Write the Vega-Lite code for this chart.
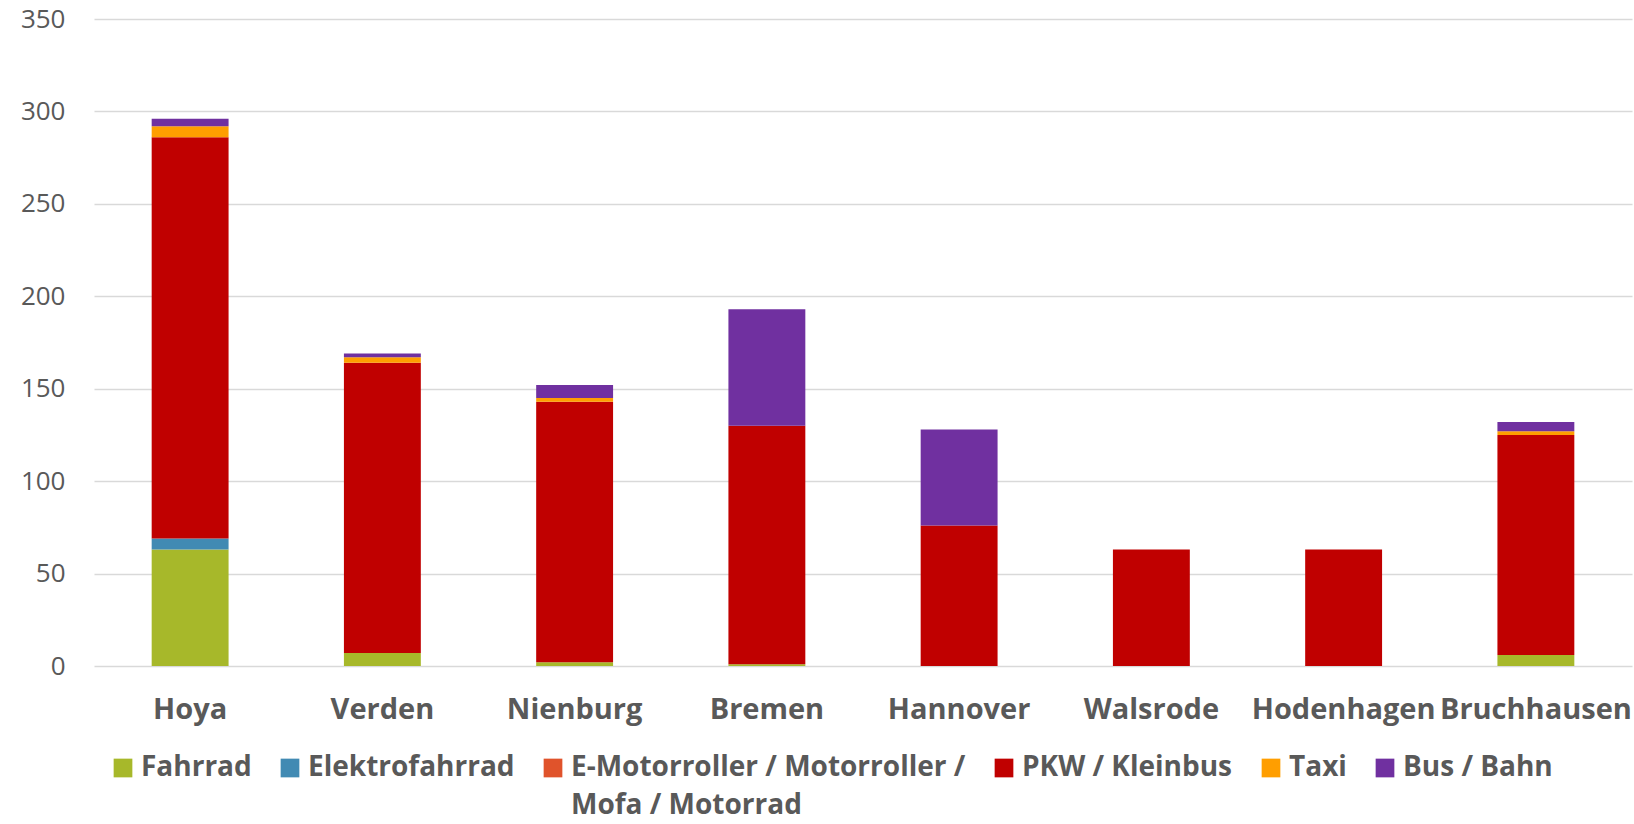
{
  "$schema": "https://vega.github.io/schema/vega-lite/v6.json",
  "width": 1538,
  "height": 647,
  "autosize": "none",
  "padding": {"left": 94, "top": 19, "right": 2, "bottom": 158},
  "background": "white",
  "config": {
    "view": {"stroke": null},
    "font": "Open Sans"
  },
  "datasets": {
    "reihenfolge": [
      {"Verkehrsmittel": "Fahrrad", "Rang": 1},
      {"Verkehrsmittel": "Elektrofahrrad", "Rang": 2},
      {"Verkehrsmittel": "E-Motorroller / Motorroller / Mofa / Motorrad", "Rang": 3},
      {"Verkehrsmittel": "PKW / Kleinbus", "Rang": 4},
      {"Verkehrsmittel": "Taxi", "Rang": 5},
      {"Verkehrsmittel": "Bus / Bahn", "Rang": 6}
    ]
  },
  "data": {
    "values": [
      {"Ort": "Hoya", "Verkehrsmittel": "Fahrrad", "Anzahl": 63},
      {"Ort": "Hoya", "Verkehrsmittel": "Elektrofahrrad", "Anzahl": 6},
      {"Ort": "Hoya", "Verkehrsmittel": "PKW / Kleinbus", "Anzahl": 217},
      {"Ort": "Hoya", "Verkehrsmittel": "Taxi", "Anzahl": 6},
      {"Ort": "Hoya", "Verkehrsmittel": "Bus / Bahn", "Anzahl": 4},
      {"Ort": "Verden", "Verkehrsmittel": "Fahrrad", "Anzahl": 7},
      {"Ort": "Verden", "Verkehrsmittel": "PKW / Kleinbus", "Anzahl": 157},
      {"Ort": "Verden", "Verkehrsmittel": "Taxi", "Anzahl": 3},
      {"Ort": "Verden", "Verkehrsmittel": "Bus / Bahn", "Anzahl": 2},
      {"Ort": "Nienburg", "Verkehrsmittel": "Fahrrad", "Anzahl": 2},
      {"Ort": "Nienburg", "Verkehrsmittel": "PKW / Kleinbus", "Anzahl": 141},
      {"Ort": "Nienburg", "Verkehrsmittel": "Taxi", "Anzahl": 2},
      {"Ort": "Nienburg", "Verkehrsmittel": "Bus / Bahn", "Anzahl": 7},
      {"Ort": "Bremen", "Verkehrsmittel": "Fahrrad", "Anzahl": 1},
      {"Ort": "Bremen", "Verkehrsmittel": "PKW / Kleinbus", "Anzahl": 129},
      {"Ort": "Bremen", "Verkehrsmittel": "Bus / Bahn", "Anzahl": 63},
      {"Ort": "Hannover", "Verkehrsmittel": "PKW / Kleinbus", "Anzahl": 76},
      {"Ort": "Hannover", "Verkehrsmittel": "Bus / Bahn", "Anzahl": 52},
      {"Ort": "Walsrode", "Verkehrsmittel": "PKW / Kleinbus", "Anzahl": 63},
      {"Ort": "Hodenhagen", "Verkehrsmittel": "PKW / Kleinbus", "Anzahl": 63},
      {"Ort": "Bruchhausen", "Verkehrsmittel": "Fahrrad", "Anzahl": 6},
      {"Ort": "Bruchhausen", "Verkehrsmittel": "PKW / Kleinbus", "Anzahl": 119},
      {"Ort": "Bruchhausen", "Verkehrsmittel": "Taxi", "Anzahl": 2},
      {"Ort": "Bruchhausen", "Verkehrsmittel": "Bus / Bahn", "Anzahl": 5}
    ]
  },
  "transform": [
    {
      "lookup": "Verkehrsmittel",
      "from": {"data": {"name": "reihenfolge"}, "key": "Verkehrsmittel", "fields": ["Rang"]}
    }
  ],
  "mark": {"type": "bar"},
  "encoding": {
    "x": {
      "field": "Ort",
      "type": "nominal",
      "sort": ["Hoya", "Verden", "Nienburg", "Bremen", "Hannover", "Walsrode", "Hodenhagen", "Bruchhausen"],
      "scale": {"paddingInner": 0.6, "paddingOuter": 0.3},
      "axis": {
        "title": null,
        "labelAngle": 0,
        "domain": false,
        "ticks": false,
        "labelPadding": 29,
        "labelFontSize": 29,
        "labelFontWeight": "bold",
        "labelColor": "#595959",
        "labelFont": "Open Sans",
        "labelLimit": 400
      }
    },
    "y": {
      "field": "Anzahl",
      "type": "quantitative",
      "stack": "zero",
      "scale": {"domain": [0, 350], "nice": false},
      "axis": {
        "title": null,
        "values": [0, 50, 100, 150, 200, 250, 300, 350],
        "domain": false,
        "ticks": false,
        "labelPadding": 29,
        "labelFontSize": 26,
        "labelColor": "#595959",
        "labelFont": "Open Sans",
        "gridColor": "#D9D9D9",
        "gridWidth": 1.5
      }
    },
    "order": {"field": "Rang", "type": "quantitative", "sort": "ascending"},
    "color": {
      "field": "Verkehrsmittel",
      "type": "nominal",
      "sort": ["Fahrrad", "Elektrofahrrad", "E-Motorroller / Motorroller / Mofa / Motorrad", "PKW / Kleinbus", "Taxi", "Bus / Bahn"],
      "scale": {
        "domain": ["Fahrrad", "Elektrofahrrad", "E-Motorroller / Motorroller / Mofa / Motorrad", "PKW / Kleinbus", "Taxi", "Bus / Bahn"],
        "range": ["#A7B82A", "#418AB3", "#E0532B", "#C00000", "#FF9E00", "#7030A0"]
      },
      "legend": {
        "title": null,
        "orient": "none",
        "legendX": 15,
        "legendY": 735,
        "direction": "horizontal",
        "columns": 6,
        "symbolType": "square",
        "symbolSize": 350,
        "symbolStrokeWidth": 0,
        "labelFontSize": 28,
        "labelFontWeight": "bold",
        "labelColor": "#595959",
        "labelFont": "Open Sans",
        "labelLimit": 600,
        "labelOffset": 4,
        "labelBaseline": "middle",
        "columnPadding": 24,
        "labelExpr": "datum.label == 'E-Motorroller / Motorroller / Mofa / Motorrad' ? ['E-Motorroller / Motorroller /', 'Mofa / Motorrad'] : [datum.label, ' ']",
        "encode": {
          "labels": {"update": {"lineHeight": {"value": 38}}}
        }
      }
    }
  }
}
